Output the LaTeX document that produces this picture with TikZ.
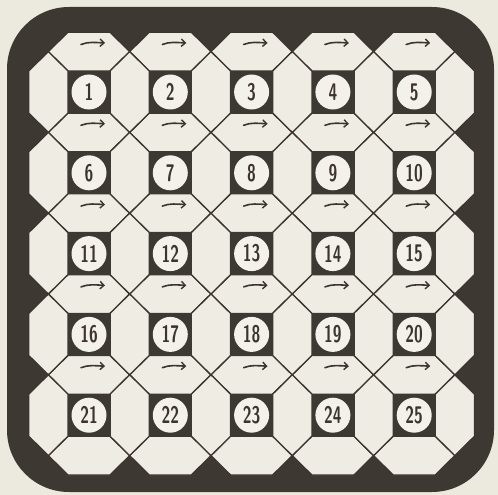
\documentclass[tikz,border=0pt]{standalone}
\usetikzlibrary{arrows.meta}
\definecolor{paper}{RGB}{236,234,222}
\definecolor{cellc}{RGB}{239,237,227}
\definecolor{board}{RGB}{62,56,51}
\definecolor{ink}{RGB}{62,52,46}
\definecolor{discc}{RGB}{243,241,233}
\begin{document}
\begin{tikzpicture}[x=1pt,y=-1pt,
  hexa/.style={fill=cellc,draw=ink,line width=1.3pt,line join=miter},
  sqr/.style={fill=board,draw=board,line width=0.8pt},
  numdisc/.style={circle,fill=discc,draw=none,minimum size=35pt,inner sep=0pt,
    font=\sffamily\bfseries\fontsize{24}{24}\selectfont,text=ink},
  arr/.style={draw=ink,line width=1.6pt,line cap=round,
    -{Straight Barb[length=4pt,width=7.5pt,line width=1.4pt]}}]
\fill[paper] (0,0) rectangle (498,495);
\useasboundingbox (0,0) rectangle (498,495);
\fill[board,rounded corners=62pt] (7,7) rectangle (494,492);
\def\hh{21}
\def\gx{40.65}
\def\gy{40.4}
% horizontal hexagons
\foreach \i in {0,...,4}{
  \foreach \k in {0,...,5}{
    \pgfmathsetmacro{\cx}{89+81.3*\i}
    \pgfmathsetmacro{\yb}{51.6+80.8*\k}
    \pgfmathsetmacro{\dv}{\gy-\hh}
    \draw[hexa] (\cx-\hh,\yb-\dv) -- (\cx+\hh,\yb-\dv) -- (\cx+\gx,\yb)
      -- (\cx+\hh,\yb+\dv) -- (\cx-\hh,\yb+\dv) -- (\cx-\gx,\yb) -- cycle;
  }
}
% vertical hexagons
\foreach \j in {0,...,4}{
  \foreach \k in {0,...,5}{
    \pgfmathsetmacro{\cy}{92+80.8*\j}
    \pgfmathsetmacro{\xb}{48.35+81.3*\k}
    \pgfmathsetmacro{\dh}{\gx-\hh}
    \draw[hexa] (\xb,\cy-\gy) -- (\xb+\dh,\cy-\hh) -- (\xb+\dh,\cy+\hh)
      -- (\xb,\cy+\gy) -- (\xb-\dh,\cy+\hh) -- (\xb-\dh,\cy-\hh) -- cycle;
  }
}
% squares and numbers
\foreach \i in {0,...,4}{
  \foreach \j in {0,...,4}{
    \pgfmathsetmacro{\cx}{89+81.3*\i}
    \pgfmathsetmacro{\cy}{92+80.8*\j}
    \pgfmathtruncatemacro{\n}{\i+1+5*\j}
    \draw[sqr] (\cx-\hh,\cy-\hh) rectangle (\cx+\hh,\cy+\hh);
    \node[numdisc] (n\n) at (\cx,\cy) {\scalebox{0.66}[1]{\n}};
  }
}
% arrows
\foreach \i in {0,...,4}{
  \foreach \k in {0,...,4}{
    \pgfmathsetmacro{\ax}{93+81.3*\i}
    \pgfmathsetmacro{\ay}{43+80.8*\k}
    \draw[arr] (\ax-12,\ay+1.5) .. controls (\ax-5,\ay-1.5) and (\ax+3,\ay-0.5) .. (\ax+12,\ay);
  }
}
\end{tikzpicture}
\end{document}
